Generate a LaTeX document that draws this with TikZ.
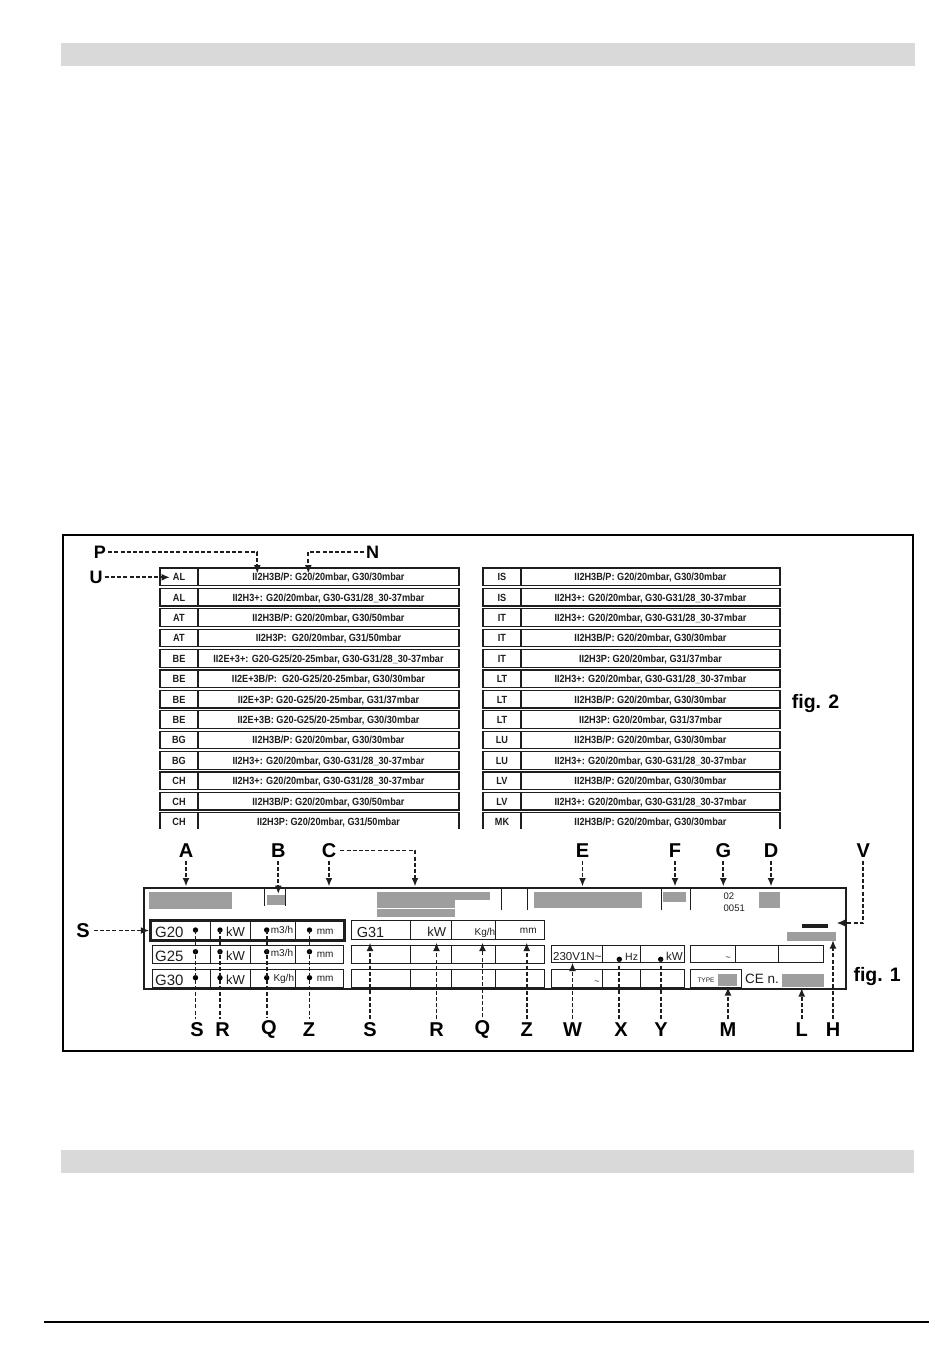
\documentclass[tikz,border=0pt]{standalone}
\usepackage{fontspec}
\setmainfont{Liberation Sans}
\newfontfamily\narrowfont[FakeStretch=0.88]{Liberation Sans}
\usetikzlibrary{arrows.meta}
\definecolor{plategray}{RGB}{158,158,158}
\definecolor{bargray}{RGB}{217,217,217}
\definecolor{ink}{RGB}{30,30,30}
\newcommand\trow[7]{%
  \draw[tabln] (#2,#5) rectangle (#4,#5+17.6);
  \draw[tabln] (#3,#5) -- (#3,#5+17.6);
  \node[tabtxt] (#1c) at ({(#2+#3)/2},#5+12.6) {#6};
  \node[tabtxt] (#1t) at ({(#3+#4)/2},#5+12.6) {#7};
}
\tikzset{
  thinln/.style={line width=0.8pt, draw=ink},
  tabln/.style={line width=1.1pt, draw=ink},
  tabtxt/.style={font=\narrowfont\fontsize{10.4}{11}\selectfont\bfseries, inner sep=0pt, anchor=base, text=ink},
  biglbl/.style={font=\fontsize{20}{20}\selectfont\bfseries, inner sep=0pt},
  midlbl/.style={font=\fontsize{18}{18}\selectfont\bfseries, inner sep=0pt},
  figlbl/.style={font=\fontsize{19.5}{20}\selectfont\bfseries, inner sep=0pt, anchor=base west},
  dsh/.style={line width=1.8pt, draw=ink, dash pattern=on 4pt off 2.2pt},
  darr/.style={dsh, -{Latex[length=8.5pt,width=7pt]}},
  dotc/.style={circle, fill=black, inner sep=0pt, minimum size=5.4pt},
  ptxt/.style={inner sep=0pt, anchor=base west, text=ink},
  ctxt/.style={inner sep=0pt, anchor=base, text=ink},
}
\begin{document}
\begin{tikzpicture}[x=1pt,y=-1pt]
\useasboundingbox (0,0) rectangle (950,1360);
\fill[white] (0,0) rectangle (950,1360);
% header bars and footer line
\fill[bargray] (61,43) rectangle (915,66);
\fill[bargray] (61,1150) rectangle (914,1173);
\draw[line width=1.3pt] (44,1322) -- (929,1322);
% figure frame
\draw[line width=2pt] (62.5,534.5) rectangle (912.5,1051);

% ---------------- fig. 2 tables ----------------
\trow{L1}{160}{198}{459}{568}{AL}{II2H3B/P: G20/20mbar, G30/30mbar}
\trow{L2}{160}{198}{459}{588.4}{AL}{II2H3+: G20/20mbar, G30-G31/28\_30-37mbar}
\trow{L3}{160}{198}{459}{608.8}{AT}{II2H3B/P: G20/20mbar, G30/50mbar}
\trow{L4}{160}{198}{459}{629.2}{AT}{II2H3P:~ G20/20mbar, G31/50mbar}
\trow{L5}{160}{198}{459}{649.6}{BE}{II2E+3+: G20-G25/20-25mbar, G30-G31/28\_30-37mbar}
\trow{L6}{160}{198}{459}{670}{BE}{II2E+3B/P:~ G20-G25/20-25mbar, G30/30mbar}
\trow{L7}{160}{198}{459}{690.4}{BE}{II2E+3P: G20-G25/20-25mbar, G31/37mbar}
\trow{L8}{160}{198}{459}{710.8}{BE}{II2E+3B: G20-G25/20-25mbar, G30/30mbar}
\trow{L9}{160}{198}{459}{731.2}{BG}{II2H3B/P: G20/20mbar, G30/30mbar}
\trow{L10}{160}{198}{459}{751.6}{BG}{II2H3+: G20/20mbar, G30-G31/28\_30-37mbar}
\trow{L11}{160}{198}{459}{772}{CH}{II2H3+: G20/20mbar, G30-G31/28\_30-37mbar}
\trow{L12}{160}{198}{459}{792.4}{CH}{II2H3B/P: G20/20mbar, G30/50mbar}
\trow{R1}{483}{521}{780}{568}{IS}{II2H3B/P: G20/20mbar, G30/30mbar}
\trow{R2}{483}{521}{780}{588.4}{IS}{II2H3+: G20/20mbar, G30-G31/28\_30-37mbar}
\trow{R3}{483}{521}{780}{608.8}{IT}{II2H3+: G20/20mbar, G30-G31/28\_30-37mbar}
\trow{R4}{483}{521}{780}{629.2}{IT}{II2H3B/P: G20/20mbar, G30/30mbar}
\trow{R5}{483}{521}{780}{649.6}{IT}{II2H3P: G20/20mbar, G31/37mbar}
\trow{R6}{483}{521}{780}{670}{LT}{II2H3+: G20/20mbar, G30-G31/28\_30-37mbar}
\trow{R7}{483}{521}{780}{690.4}{LT}{II2H3B/P: G20/20mbar, G30/30mbar}
\trow{R8}{483}{521}{780}{710.8}{LT}{II2H3P: G20/20mbar, G31/37mbar}
\trow{R9}{483}{521}{780}{731.2}{LU}{II2H3B/P: G20/20mbar, G30/30mbar}
\trow{R10}{483}{521}{780}{751.6}{LU}{II2H3+: G20/20mbar, G30-G31/28\_30-37mbar}
\trow{R11}{483}{521}{780}{772}{LV}{II2H3B/P: G20/20mbar, G30/30mbar}
\trow{R12}{483}{521}{780}{792.4}{LV}{II2H3+: G20/20mbar, G30-G31/28\_30-37mbar}
\begin{scope}
\clip (0,0) rectangle (950,828);
\trow{L13}{160}{198}{459}{812.8}{CH}{II2H3P: G20/20mbar, G31/50mbar}
\trow{R13}{483}{521}{780}{812.8}{MK}{II2H3B/P: G20/20mbar, G30/30mbar}
\end{scope}
\node[figlbl] (fig2) at (791.7,708) {fig. 2};
% P, N, U
\node[midlbl] (P) at (100,552) {P};
\node[midlbl] (N) at (372.5,552) {N};
\node[midlbl] (U) at (96,577.3) {U};
\coordinate (tP) at (257.3,573.5);
\coordinate (tN) at (308.3,573.5);
\coordinate (tU) at (170,577.3);
\draw[darr] ([xshift=2pt]P.east) -| (tP);
\draw[darr] ([xshift=-2pt]N.west) -| (tN);
\draw[darr] ([xshift=2pt]U.east) -- (tU);

% ---------------- fig. 1 plate ----------------
\draw[line width=2.2pt, draw=ink] (143.8,887.8) rectangle (845.6,988.9);
% top row
\fill[plategray] (149.3,891.7) rectangle (231.7,909.3);
\draw[thinln] (264,887) -- (264,906);
\draw[thinln] (285,887) -- (285,906);
\fill[plategray] (267.3,895) rectangle (285,905);
\fill[plategray] (376.7,891.7) rectangle (490,900);
\fill[plategray] (376.7,899.5) rectangle (455,907.6);
\fill[plategray] (376.7,909.4) rectangle (455,917.2);
\draw[thinln] (501.7,887) -- (501.7,909.5);
\draw[thinln] (527.7,887) -- (527.7,909.5);
\fill[plategray] (534,892.3) rectangle (641.7,908.3);
\draw[thinln] (661.7,887) -- (661.7,910);
\fill[plategray] (663.3,891.7) rectangle (686,901.7);
\draw[thinln] (690.5,887) -- (690.5,910);
\node[ptxt, font=\fontsize{9.5}{10}\selectfont] (n02) at (723.5,899.5) {02};
\node[ptxt, font=\fontsize{9.5}{10}\selectfont] (n0051) at (723.5,911.5) {0051};
\fill[plategray] (759.3,892.3) rectangle (780,908.3);
\fill[ink] (801.7,924) rectangle (828.3,928.3);
\fill[plategray] (786.7,931.5) rectangle (836,941);

% left gas group (G20/G25/G30)
\draw[line width=3pt, draw=ink] (150.8,920.8) rectangle (344.5,940.2);
\foreach \x in {210.7,250.7,295} \draw[thinln] (\x,920.8) -- (\x,940.2);
\draw[thinln] (152.7,945.7) rectangle (343.3,963.3);
\draw[thinln] (152.7,969.3) rectangle (343.3,987.3);
\foreach \x in {210.7,250.7,295} {
  \draw[thinln] (\x,945.7) -- (\x,963.3);
  \draw[thinln] (\x,969.3) -- (\x,987.3);
}
\node[ptxt, font=\fontsize{15}{15}\selectfont] (g20) at (155,937.3) {G20};
\node[ptxt, font=\fontsize{15}{15}\selectfont] (g25) at (155,961.3) {G25};
\node[ptxt, font=\fontsize{15}{15}\selectfont] (g30) at (155,985) {G30};
\node[ptxt, font=\fontsize{13}{13}\selectfont] (kw1) at (226,936.7) {kW};
\node[ptxt, font=\fontsize{13}{13}\selectfont] (kw2) at (226,960.5) {kW};
\node[ptxt, font=\fontsize{13}{13}\selectfont] (kw3) at (226,984) {kW};
\node[ptxt, font=\fontsize{10}{10}\selectfont] (m31) at (270.7,933.5) {m3/h};
\node[ptxt, font=\fontsize{10}{10}\selectfont] (m32) at (270.7,956) {m3/h};
\node[ptxt, font=\fontsize{10}{10}\selectfont] (kg3) at (273.3,981.5) {Kg/h};
\node[ptxt, font=\fontsize{10}{10}\selectfont] (mm1) at (316.7,934) {mm};
\node[ptxt, font=\fontsize{10}{10}\selectfont] (mm2) at (316.7,957) {mm};
\node[ptxt, font=\fontsize{10}{10}\selectfont] (mm3) at (316.7,981.3) {mm};
% dots and lines S R Q Z
\node[biglbl] (lS) at (197,1029.5) {S};
\node[biglbl] (lR) at (222.7,1029.5) {R};
\node[biglbl] (lQ) at (269,1029.5) {Q};
\node[biglbl] (lZ) at (309,1029.5) {Z};
\foreach \nm/\x in {S/195.5,R/220,Q/266.7,Z/309.5} {
  \node[dotc] (d\nm1) at (\x,930) {};
  \node[dotc] (d\nm2) at (\x,951.7) {};
  \node[dotc] (d\nm3) at (\x,977.7) {};
  \draw[dsh] (d\nm1.center) -- ([yshift=3pt]d\nm1.center |- l\nm.north);
}
% left S
\node[biglbl] (lS0) at (83,930.5) {S};
\coordinate (tS0) at (149.3,930.5);
\draw[darr] ([xshift=4pt]lS0.east) -- (tS0);

% G31 group
\draw[thinln] (351.7,920.7) rectangle (544,939.3);
\draw[thinln] (351.7,945.7) rectangle (544,963.3);
\draw[thinln] (351.7,969.3) rectangle (544,987.3);
\foreach \x in {410,451.7,495} {
  \draw[thinln] (\x,920.7) -- (\x,939.3);
  \draw[thinln] (\x,945.7) -- (\x,963.3);
  \draw[thinln] (\x,969.3) -- (\x,987.3);
}
\node[ptxt, font=\fontsize{14.5}{15}\selectfont] (g31) at (356.7,937.3) {G31};
\node[ctxt, font=\fontsize{13}{13}\selectfont] (kw4) at (436.7,936.7) {kW};
\node[ctxt, font=\fontsize{10}{10}\selectfont] (kg4) at (485,935) {Kg/h};
\node[ctxt, font=\fontsize{10}{10}\selectfont] (mm4) at (528.3,933.5) {mm};
\node[biglbl] (lS2) at (370,1029.5) {S};
\node[biglbl] (lR2) at (436.5,1029.5) {R};
\node[biglbl] (lQ2) at (482.5,1029.5) {Q};
\node[biglbl] (lZ2) at (526.7,1029.5) {Z};
\coordinate (tS2) at (370,942.5);
\coordinate (tR2) at (436.5,942.5);
\coordinate (tQ2) at (482.5,942.5);
\coordinate (tZ2) at (526.7,942.5);
\foreach \nm in {S2,R2,Q2,Z2} \draw[darr] ([yshift=3pt]l\nm.north) -- (t\nm);

% electrical group
\draw[thinln] (551.7,945.7) rectangle (684,962.7);
\draw[thinln] (551.7,969.3) rectangle (684,987.3);
\foreach \x in {602.7,640.7} {
  \draw[thinln] (\x,945.7) -- (\x,962.7);
  \draw[thinln] (\x,969.3) -- (\x,987.3);
}
\node[ptxt, font=\fontsize{11.5}{12}\selectfont] (volt) at (553,960) {230V1N\textasciitilde};
\node[ctxt, font=\fontsize{9}{9}\selectfont] (til1) at (597,984) {\textasciitilde};
\node[ptxt, font=\fontsize{10.5}{11}\selectfont] (hz) at (625,960) {Hz};
\node[ptxt, font=\fontsize{11.5}{12}\selectfont] (kw5) at (666,960) {kW};
\node[dotc] (dX) at (619.3,959.3) {};
\node[dotc] (dY) at (660.7,959.3) {};
% right boxes
\draw[thinln] (690.7,945.7) rectangle (823.3,962.7);
\foreach \x in {735,778.3} \draw[thinln] (\x,945.7) -- (\x,962.7);
\node[ctxt, font=\fontsize{9}{9}\selectfont] (til2) at (728.3,960) {\textasciitilde};
\draw[thinln] (690.7,969.3) rectangle (741.7,987.3);
\node[inner sep=0pt, text=ink, font=\fontsize{6.5}{7}\selectfont] (type) at (706,980.5) {TYPE};
\fill[plategray] (718.3,974) rectangle (736.7,986);
\node[ptxt, font=\fontsize{13.5}{14}\selectfont] (cen) at (745,983.3) {CE n.};
\fill[plategray] (781.7,974.3) rectangle (824,986.7);
\node[figlbl] (fig1) at (853.3,981.5) {fig. 1};

% top labels and arrows
\node[biglbl] (lA) at (186,850.5) {A};
\node[biglbl] (lB) at (278.3,850.5) {B};
\node[biglbl] (lC) at (329,850.5) {C};
\node[biglbl] (lE) at (582.5,850.5) {E};
\node[biglbl] (lF) at (675,850.5) {F};
\node[biglbl] (lG) at (723.3,850.5) {G};
\node[biglbl] (lD) at (771,850.5) {D};
\node[biglbl] (lV) at (863.3,850.5) {V};
\coordinate (tA) at (186,886.5);
\coordinate (tB) at (278.3,894);
\coordinate (tC) at (329,886.5);
\coordinate (tC2) at (415,886.5);
\coordinate (tE) at (582.5,886.5);
\coordinate (tF) at (675,886.5);
\coordinate (tG) at (723.3,886.5);
\coordinate (tD) at (771,886.5);
\coordinate (tV) at (836.5,923);
\foreach \nm in {A,B,C,E,F,G,D} \draw[darr] ([yshift=-3pt]l\nm.south) -- (t\nm);
\draw[darr] ([xshift=4pt]lC.east) -| (tC2);
\draw[darr] ([yshift=-3pt]lV.south) |- (tV);

% bottom labels and arrows
\node[biglbl] (lW) at (572.5,1029.5) {W};
\node[biglbl] (lX) at (621,1029.5) {X};
\node[biglbl] (lY) at (661,1029.5) {Y};
\node[biglbl] (lM) at (728,1029.5) {M};
\node[biglbl] (lL) at (801.7,1029.5) {L};
\node[biglbl] (lH) at (833,1029.5) {H};
\coordinate (tW) at (572.5,962.5);
\coordinate (tM) at (728,987);
\coordinate (tL) at (801.7,988);
\coordinate (tH) at (833,940);
\foreach \nm in {W,M,L,H} \draw[darr] ([yshift=3pt]l\nm.north) -- (t\nm);
\draw[dsh] (dX.center) -- ([yshift=3pt]dX.center |- lX.north);
\draw[dsh] (dY.center) -- ([yshift=3pt]dY.center |- lY.north);
\end{tikzpicture}
\end{document}
